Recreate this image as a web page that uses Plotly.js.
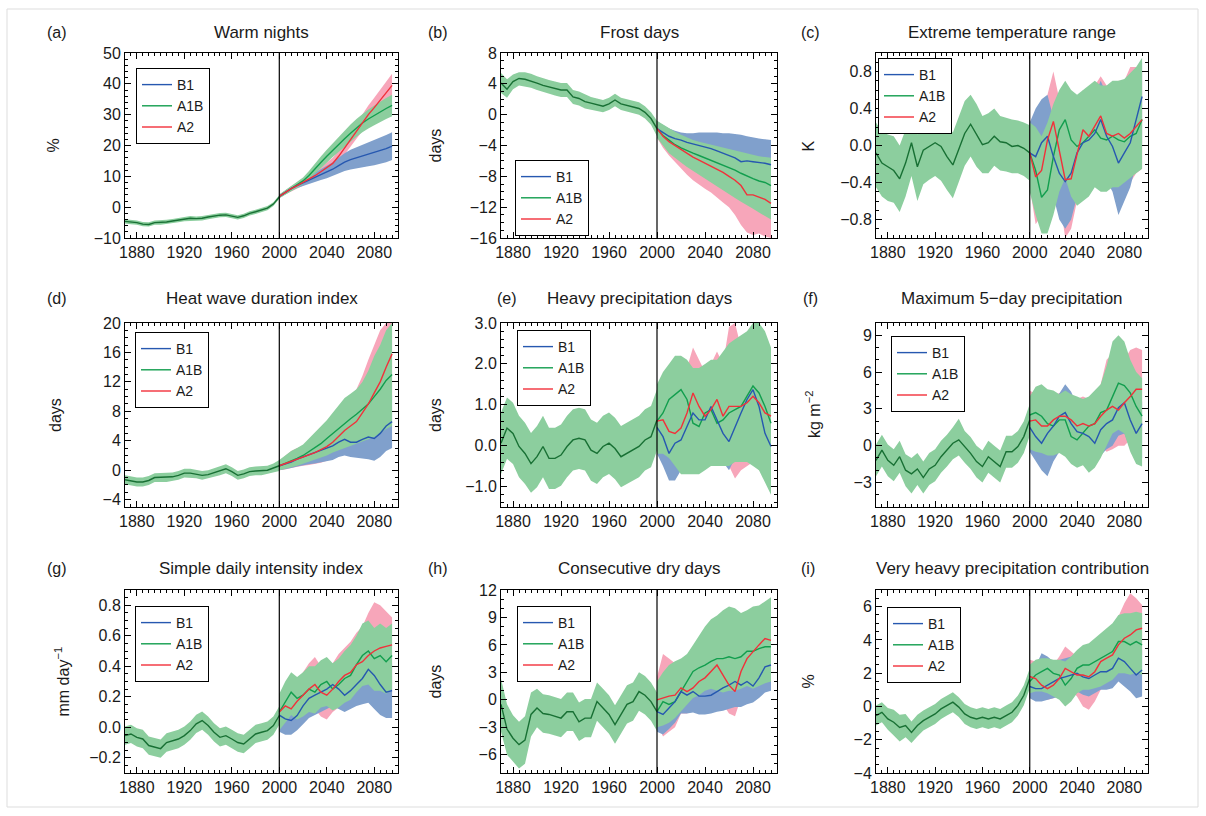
<!DOCTYPE html>
<html><head><meta charset="utf-8">
<script src="https://cdn.plot.ly/plotly-3.0.1.min.js"></script>
<style>html,body{margin:0;padding:0;background:#fff}#chart{width:1206px;height:816px}</style>
</head><body><div id="chart"></div>
<script>
// ---------- years ----------
const X_HIST = [1870,1875,1880,1885,1890,1895,1900,1905,1910,1915,1920,1925,1930,1935,1940,1945,1950,1955,1960,1965,1970,1975,1980,1985,1990,1995,2000];
const X_FUT = [2000,2005,2010,2015,2020,2025,2030,2035,2040,2045,2050,2055,2060,2065,2070,2075,2080,2085,2090,2095];
const X_TICKS = [1880,1920,1960,2000,2040,2080];
const SCENARIOS = ["B1","A1B","A2"];

// ---------- (a) Warm nights ----------
const a_hist = [-4.6,-4.8,-5.0,-5.5,-5.6,-5.0,-5.0,-4.8,-4.5,-4.2,-3.9,-3.6,-3.7,-3.6,-3.2,-2.8,-2.6,-2.5,-2.9,-3.3,-2.8,-2.0,-1.5,-1.0,-0.3,1.0,3.3];
const a_hist_lo = [-5.3,-5.5,-5.7,-6.2,-6.3,-5.7,-5.7,-5.5,-5.2,-4.9,-4.6,-4.3,-4.4,-4.3,-3.9,-3.5,-3.3,-3.2,-3.6,-4.0,-3.5,-2.7,-2.2,-1.7,-1.0,0.4,2.7];
const a_hist_hi = [-3.9,-4.1,-4.3,-4.8,-4.9,-4.3,-4.3,-4.1,-3.8,-3.5,-3.2,-2.9,-3.0,-2.9,-2.5,-2.1,-1.9,-1.8,-2.2,-2.6,-2.1,-1.3,-0.8,-0.3,0.4,1.6,3.9];
const a_b1 = [3.5,4.8,6.0,7.0,7.9,8.8,9.6,10.5,11.4,12.3,13.5,14.6,15.4,16.0,16.6,17.1,17.6,18.2,19.0,19.8];
const a_b1_lo = [3.0,4.2,5.3,6.2,6.9,7.6,8.2,8.8,9.4,10.0,10.9,11.7,12.2,12.6,13.0,13.3,13.6,14.0,14.6,15.3];
const a_b1_hi = [4.0,5.4,6.7,7.8,8.9,10.0,11.0,12.2,13.4,14.6,16.1,17.5,18.6,19.4,20.2,20.9,21.6,22.4,23.4,24.3];
const a_a1b = [3.5,4.8,6.0,7.2,8.5,10.3,12.5,14.5,16.5,18.5,20.3,22.2,24.0,25.7,27.3,28.6,29.8,31.0,32.0,33.0];
const a_a1b_lo = [2.9,4.1,5.2,6.3,7.4,8.9,10.8,12.6,14.4,16.3,17.9,19.6,21.2,22.8,24.3,25.5,26.6,27.7,28.6,29.5];
const a_a1b_hi = [4.1,5.5,6.8,8.1,9.6,11.7,14.2,16.4,18.6,20.7,22.7,24.8,26.8,28.6,30.3,31.7,33.0,34.3,35.4,36.5];
const a_a2 = [3.5,4.8,6.0,7.0,8.0,9.0,10.2,11.5,12.8,14.2,16.5,19.2,22.0,24.8,27.5,30.0,32.3,34.8,37.0,39.5];
const a_a2_lo = [2.9,4.1,5.2,6.1,7.0,7.9,9.0,10.1,11.2,12.4,14.5,17.0,19.6,22.2,24.7,27.0,29.1,31.4,33.5,35.7];
const a_a2_hi = [4.1,5.5,6.8,7.9,9.0,10.1,11.4,12.9,14.4,16.0,18.5,21.4,24.4,27.4,30.3,33.0,35.5,38.2,40.5,43.3];

// ---------- (b) Frost days ----------
const b_hist = [4.1,3.3,4.3,4.7,4.6,4.4,4.1,3.8,3.6,3.4,3.2,3.2,2.3,2.1,1.7,1.5,1.3,1.1,1.4,1.9,1.4,1.2,1.0,0.8,0.3,-0.5,-1.8];
const b_hist_lo = [2.8,2.2,3.3,3.8,3.7,3.5,3.2,2.9,2.7,2.5,2.3,2.3,1.4,1.2,0.8,0.7,0.5,0.3,0.6,1.1,0.6,0.4,0.2,0.0,-0.5,-1.3,-2.8];
const b_hist_hi = [5.4,4.6,5.2,5.5,5.5,5.3,5.0,4.7,4.5,4.3,4.1,4.1,3.2,3.0,2.6,2.3,2.1,1.9,2.2,2.7,2.2,2.0,1.8,1.6,1.1,0.3,-0.8];
const b_b1 = [-1.8,-2.3,-2.8,-3.1,-3.3,-3.6,-3.8,-3.9,-4.1,-4.4,-4.7,-5.0,-5.3,-5.6,-6.1,-6.0,-6.1,-6.2,-6.3,-6.5];
const b_b1_lo = [-2.8,-3.6,-4.3,-4.8,-5.2,-5.7,-6.1,-6.4,-6.7,-7.1,-7.5,-7.9,-8.3,-8.6,-9.1,-9.2,-9.3,-9.4,-9.5,-9.7];
const b_b1_hi = [-0.9,-1.4,-1.8,-2.1,-2.3,-2.4,-2.4,-2.3,-2.3,-2.3,-2.3,-2.4,-2.4,-2.5,-2.6,-2.8,-3.0,-3.1,-3.2,-3.3];
const b_a1b = [-1.8,-2.7,-3.3,-3.9,-4.3,-4.7,-5.0,-5.3,-5.6,-5.9,-6.2,-6.5,-6.8,-7.2,-7.6,-8.0,-8.3,-8.6,-8.8,-9.2];
const b_a1b_lo = [-3.0,-4.0,-5.0,-5.6,-6.2,-6.8,-7.4,-7.8,-8.3,-8.8,-9.3,-9.8,-10.3,-10.8,-11.3,-11.8,-12.2,-12.7,-13.2,-13.6];
const b_a1b_hi = [-0.8,-1.3,-1.8,-2.2,-2.6,-3.0,-3.3,-3.5,-3.7,-3.9,-4.1,-4.3,-4.5,-4.7,-4.9,-5.1,-5.3,-5.4,-5.5,-5.6];
const b_a2 = [-1.8,-2.8,-3.5,-4.0,-4.6,-5.1,-5.5,-5.9,-6.3,-6.6,-7.0,-7.5,-8.0,-8.5,-9.2,-10.4,-10.4,-10.7,-11.0,-11.5];
const b_a2_lo = [-3.0,-4.3,-5.3,-6.2,-7.0,-7.8,-8.5,-9.1,-9.6,-10.1,-10.7,-11.4,-12.0,-13.0,-14.3,-15.3,-15.6,-15.4,-15.8,-16.0];
const b_a2_hi = [-0.8,-1.5,-2.0,-2.3,-2.8,-3.2,-3.5,-3.9,-4.2,-4.5,-4.8,-5.1,-5.5,-5.8,-6.2,-6.8,-7.0,-7.3,-7.5,-7.8];

// ---------- (c) Extreme temperature range ----------
const c_hist = [-0.08,-0.19,-0.23,-0.27,-0.36,-0.19,0.03,-0.23,-0.05,-0.01,0.03,-0.01,-0.12,-0.21,-0.05,0.13,0.23,0.12,0.01,0.03,0.10,0.04,0.03,-0.01,0.00,-0.03,-0.08];
const c_hist_lo = [-0.45,-0.55,-0.6,-0.62,-0.72,-0.55,-0.33,-0.6,-0.42,-0.37,-0.33,-0.38,-0.48,-0.57,-0.40,-0.22,-0.12,-0.23,-0.30,-0.30,-0.22,-0.27,-0.28,-0.30,-0.30,-0.33,-0.38];
const c_hist_hi = [0.25,0.15,0.12,0.10,0.0,0.17,0.38,0.12,0.30,0.34,0.38,0.34,0.22,0.14,0.30,0.48,0.55,0.45,0.32,0.35,0.40,0.32,0.30,0.28,0.27,0.25,0.22];
const c_b1 = [-0.08,-0.12,0.03,0.10,-0.12,-0.30,-0.39,-0.30,-0.08,0.03,0.06,0.13,0.28,0.10,-0.01,-0.19,-0.08,0.03,0.28,0.53];
const c_b1_lo = [-0.45,-0.50,-0.35,-0.30,-0.55,-0.80,-0.90,-0.80,-0.55,-0.42,-0.40,-0.35,-0.20,-0.38,-0.50,-0.75,-0.60,-0.45,-0.20,0.0];
const c_b1_hi = [0.25,0.40,0.50,0.55,0.30,0.10,0.05,0.15,0.35,0.45,0.50,0.55,0.70,0.55,0.45,0.30,0.40,0.50,0.70,0.90];
const c_a1b = [-0.08,-0.27,-0.56,-0.48,-0.12,0.17,0.28,0.06,-0.01,0.03,0.10,0.17,0.08,0.06,0.10,0.06,0.04,0.10,0.13,0.28];
const c_a1b_lo = [-0.50,-0.75,-0.95,-0.95,-0.75,-0.50,-0.35,-0.55,-0.65,-0.60,-0.55,-0.45,-0.50,-0.50,-0.45,-0.45,-0.40,-0.35,-0.30,-0.25];
const c_a1b_hi = [0.25,0.20,0.10,0.25,0.45,0.60,0.70,0.60,0.55,0.60,0.65,0.70,0.65,0.65,0.70,0.70,0.72,0.78,0.85,0.95];
const c_a2 = [-0.08,-0.34,-0.27,0.06,0.26,-0.05,-0.37,-0.36,-0.08,0.17,0.10,0.21,0.32,0.13,0.10,0.13,0.08,0.13,0.21,0.28];
const c_a2_lo = [-0.45,-0.85,-0.75,-0.40,-0.25,-0.55,-1.00,-0.90,-0.60,-0.35,-0.40,-0.30,-0.20,-0.40,-0.45,-0.40,-0.45,-0.40,-0.30,-0.25];
const c_a2_hi = [0.25,0.15,0.25,0.55,0.80,0.50,0.25,0.30,0.45,0.60,0.60,0.65,0.75,0.65,0.65,0.70,0.70,0.85,0.85,0.80];

// ---------- (d) Heat wave duration index ----------
const d_hist = [-1.3,-1.5,-1.6,-1.6,-1.4,-1.0,-1.0,-1.0,-0.9,-0.7,-0.4,-0.4,-0.5,-0.7,-0.6,-0.3,-0.1,0.2,-0.2,-0.7,-0.5,-0.2,-0.1,-0.1,0.0,0.3,0.6];
const d_hist_lo = [-1.9,-2.1,-2.2,-2.2,-2.0,-1.6,-1.6,-1.6,-1.5,-1.3,-1.0,-1.0,-1.1,-1.3,-1.2,-0.9,-0.7,-0.4,-0.8,-1.3,-1.1,-0.8,-0.7,-0.7,-0.6,-0.3,-0.1];
const d_hist_hi = [-0.7,-0.9,-1.0,-1.0,-0.8,-0.4,-0.4,-0.4,-0.3,-0.1,0.2,0.2,0.1,-0.1,0.0,0.3,0.5,0.8,0.4,-0.1,0.1,0.4,0.5,0.5,0.6,0.9,1.4];
const d_b1 = [0.6,0.8,1.1,1.5,1.8,2.0,2.3,2.6,3.0,3.3,3.8,4.2,3.8,3.8,4.2,4.5,4.3,5.0,6.0,6.6];
const d_b1_lo = [0.0,0.1,0.3,0.5,0.7,0.8,0.9,1.0,1.2,1.4,1.8,2.0,1.8,1.6,1.6,1.5,1.3,1.8,2.6,3.0];
const d_b1_hi = [1.2,1.5,1.9,2.5,2.9,3.2,3.7,4.2,4.8,5.2,5.8,6.4,5.8,6.0,6.8,7.5,7.3,8.2,9.4,10.2];
const d_a1b = [0.6,0.9,1.2,1.6,2.0,2.5,3.0,3.6,4.3,5.0,5.7,6.4,7.0,7.6,8.3,9.0,10.0,11.0,12.2,13.0];
const d_a1b_lo = [0.0,0.2,0.4,0.6,0.8,1.1,1.4,1.7,2.0,2.4,2.8,3.1,3.3,3.6,3.9,4.2,4.5,5.0,5.6,6.0];
const d_a1b_hi = [1.4,2.0,2.6,3.0,3.5,4.3,5.1,6.0,6.8,7.8,8.8,9.8,10.4,11.0,12.0,13.5,15.5,17.0,19.0,20.0];
const d_a2 = [0.6,0.9,1.2,1.6,1.8,2.1,2.4,2.8,3.2,3.8,4.6,5.4,6.0,6.6,7.8,9.0,10.5,12.0,14.0,15.8];
const d_a2_lo = [0.0,0.1,0.3,0.5,0.6,0.7,0.8,1.0,1.3,1.7,2.2,2.8,3.2,3.6,4.5,5.3,6.3,7.3,8.5,9.5];
const d_a2_hi = [1.3,1.9,2.6,3.0,3.2,3.7,4.2,4.8,5.6,6.5,7.6,8.8,9.9,11.0,12.8,15.0,17.0,19.0,20.0,20.0];

// ---------- (e) Heavy precipitation days ----------
const e_hist = [0.06,0.43,0.30,-0.02,-0.19,-0.44,-0.27,-0.02,-0.31,-0.31,-0.23,-0.02,0.14,0.18,0.14,-0.11,-0.19,-0.02,0.06,-0.07,-0.27,-0.19,-0.11,-0.02,0.14,0.22,0.63];
const e_hist_lo = [-0.69,-0.32,-0.45,-0.77,-0.94,-1.15,-1.02,-0.77,-1.06,-1.06,-0.98,-0.77,-0.61,-0.57,-0.61,-0.86,-0.94,-0.77,-0.69,-0.82,-1.02,-0.94,-0.86,-0.77,-0.61,-0.53,-0.12];
const e_hist_hi = [0.81,1.18,1.05,0.73,0.56,0.31,0.48,0.73,0.44,0.44,0.52,0.73,0.89,0.93,0.89,0.64,0.56,0.73,0.81,0.68,0.48,0.56,0.64,0.73,0.89,0.97,1.38];
const e_b1 = [0.45,0.22,-0.19,0.06,0.14,0.47,0.80,0.63,0.63,0.96,0.63,0.30,0.10,0.47,0.80,1.13,1.37,0.96,0.30,-0.02];
const e_b1_lo = [-0.2,-0.5,-0.85,-0.85,-0.6,-0.3,0.0,-0.1,-0.1,0.2,-0.1,-0.4,-0.6,-0.3,0.0,0.3,0.5,0.1,-0.5,-0.8];
const e_b1_hi = [1.1,1.0,0.6,0.8,0.9,1.2,1.5,1.4,1.4,1.7,1.4,1.0,0.8,1.2,1.6,1.9,2.1,1.7,1.0,0.7];
const e_a1b = [0.60,0.80,1.13,1.25,1.37,1.13,0.55,0.47,0.80,0.88,0.55,0.63,0.80,0.88,0.96,1.21,1.46,1.29,0.96,0.55];
const e_a1b_lo = [-0.2,-0.2,-0.3,-0.5,-0.7,-0.7,-0.7,-0.7,-0.6,-0.5,-0.5,-0.5,-0.5,-0.4,-0.4,-0.4,-0.5,-0.6,-0.9,-1.2];
const e_a1b_hi = [1.5,1.8,2.0,2.2,2.2,2.1,1.9,1.9,2.0,2.1,2.1,2.3,2.5,2.6,2.7,2.8,3.0,3.0,2.8,2.4];
const e_a2 = [0.60,0.63,0.35,0.30,0.43,0.80,1.29,0.96,0.72,0.88,1.13,0.72,0.96,0.96,0.96,1.05,1.21,1.05,0.80,0.72];
const e_a2_lo = [-0.1,-0.2,-0.5,-0.6,-0.5,-0.2,0.2,-0.1,-0.3,-0.3,-0.2,-0.5,-0.5,-0.8,-0.6,-0.5,-0.4,-0.6,-0.7,-0.8];
const e_a2_hi = [1.3,1.4,1.2,1.3,1.5,1.9,2.4,2.1,1.8,2.0,2.3,2.0,2.9,3.0,2.4,2.3,2.5,2.3,2.1,2.2];

// ---------- (f) Maximum 5-day precipitation ----------
const f_hist = [-1.2,-0.36,-1.2,-1.6,-0.9,-2.0,-2.3,-1.9,-2.6,-1.9,-1.6,-0.9,-0.36,0.2,0.47,-0.08,-0.63,-1.3,-1.7,-0.9,-1.3,-1.7,-0.5,-0.5,-0.08,0.74,2.1];
const f_hist_lo = [-2.5,-1.7,-2.5,-2.9,-2.2,-3.3,-3.9,-3.2,-3.9,-3.2,-2.9,-2.2,-1.7,-1.1,-0.8,-1.4,-1.9,-2.6,-3.0,-2.2,-2.6,-3.0,-1.8,-1.8,-1.4,-0.6,0.8];
const f_hist_hi = [0.1,0.9,0.1,-0.3,0.4,-0.7,-1.0,-0.6,-1.3,-0.6,-0.3,0.4,0.9,1.5,2.2,1.2,0.7,0.0,-0.4,0.4,0.0,-0.4,0.8,0.8,1.2,2.0,3.4];
const f_b1 = [1.5,0.74,0.2,1.0,1.6,2.4,2.7,1.8,1.15,1.0,0.74,0.2,1.3,1.8,2.1,3.1,3.5,2.1,1.0,1.8];
const f_b1_lo = [-0.5,-1.2,-2.0,-2.5,-1.3,-0.5,0.0,-0.5,-0.8,-1.0,-1.0,-1.5,-0.8,-0.3,0.0,0.8,1.0,-0.3,-1.0,-1.0];
const f_b1_hi = [3.0,2.5,2.3,3.0,3.5,4.3,5.0,4.4,3.3,3.0,2.7,2.2,3.2,3.6,4.0,5.0,5.5,4.2,3.0,3.6];
const f_a1b = [2.5,2.7,2.4,1.8,1.6,2.1,2.1,0.74,0.47,1.0,1.6,1.8,2.7,2.9,4.0,5.1,4.9,4.3,3.2,2.4];
const f_a1b_lo = [-0.3,-0.5,-0.6,-0.8,-0.8,-0.6,-0.9,-1.5,-1.8,-1.6,-2.2,-1.8,-1.0,0.0,1.0,1.3,1.0,-0.5,-1.5,-1.7];
const f_a1b_hi = [4.0,4.8,5.0,4.6,4.5,4.2,4.5,4.2,4.0,3.8,4.0,4.5,5.0,6.5,8.5,9.0,8.5,7.0,6.0,5.5];
const f_a2 = [2.0,2.1,1.6,1.6,2.1,2.4,2.4,2.1,1.6,1.8,1.6,1.8,2.4,2.9,3.2,2.9,3.5,4.0,4.6,4.6];
const f_a2_lo = [0.0,-0.2,-0.5,-0.5,0.0,0.3,0.3,0.0,-0.5,-0.3,-0.5,-0.3,0.0,-0.5,-0.3,0.0,0.0,0.5,1.0,1.2];
const f_a2_hi = [4.5,4.2,3.8,3.8,4.0,4.3,4.3,4.0,3.8,4.0,3.8,4.0,5.0,7.0,7.5,6.5,7.0,7.8,8.0,7.8];

// ---------- (g) Simple daily intensity index ----------
const g_hist = [-0.055,-0.044,-0.066,-0.077,-0.12,-0.13,-0.14,-0.10,-0.09,-0.077,-0.055,-0.022,0.022,0.044,0.011,-0.033,-0.066,-0.055,-0.077,-0.10,-0.11,-0.077,-0.044,-0.033,-0.022,0.011,0.077];
const g_hist_lo = [-0.115,-0.104,-0.126,-0.137,-0.18,-0.19,-0.2,-0.16,-0.15,-0.137,-0.115,-0.082,-0.038,-0.016,-0.049,-0.093,-0.126,-0.115,-0.137,-0.16,-0.17,-0.137,-0.104,-0.093,-0.082,-0.049,0.017];
const g_hist_hi = [0.005,0.016,-0.006,-0.017,-0.06,-0.07,-0.08,-0.04,-0.03,-0.017,0.005,0.038,0.082,0.104,0.071,0.027,-0.006,0.005,-0.017,-0.04,-0.05,-0.017,0.016,0.027,0.038,0.071,0.137];
const g_b1 = [0.08,0.055,0.044,0.077,0.14,0.19,0.21,0.23,0.25,0.28,0.25,0.21,0.24,0.28,0.32,0.38,0.34,0.28,0.23,0.24];
const g_b1_lo = [-0.03,-0.05,-0.05,-0.02,0.02,0.06,0.08,0.10,0.12,0.14,0.12,0.10,0.12,0.14,0.15,0.16,0.12,0.08,0.06,0.06];
const g_b1_hi = [0.18,0.16,0.15,0.18,0.26,0.32,0.34,0.36,0.38,0.42,0.38,0.34,0.37,0.42,0.48,0.56,0.52,0.46,0.40,0.42];
const g_a1b = [0.10,0.17,0.23,0.19,0.21,0.25,0.23,0.28,0.30,0.25,0.28,0.32,0.34,0.41,0.47,0.50,0.45,0.47,0.43,0.47];
const g_a1b_lo = [-0.02,0.03,0.08,0.05,0.07,0.10,0.09,0.13,0.14,0.11,0.13,0.16,0.18,0.23,0.27,0.28,0.24,0.24,0.22,0.25];
const g_a1b_hi = [0.22,0.30,0.36,0.33,0.36,0.40,0.40,0.44,0.46,0.42,0.45,0.50,0.54,0.60,0.68,0.70,0.65,0.68,0.65,0.68];
const g_a2 = [0.10,0.14,0.12,0.17,0.21,0.25,0.28,0.23,0.21,0.25,0.30,0.34,0.36,0.41,0.43,0.47,0.50,0.52,0.53,0.54];
const g_a2_lo = [0.00,0.03,0.01,0.05,0.05,0.10,0.12,0.07,0.05,0.10,0.13,0.15,0.12,0.18,0.20,0.22,0.25,0.15,0.15,0.20];
const g_a2_hi = [0.22,0.26,0.25,0.30,0.36,0.42,0.46,0.40,0.38,0.42,0.48,0.52,0.56,0.62,0.66,0.75,0.82,0.80,0.76,0.72];

// ---------- (h) Consecutive dry days ----------
const h_hist = [-0.5,-3.2,-4.2,-4.9,-4.4,-1.6,-0.9,-1.5,-1.6,-1.8,-2.0,-1.3,-1.3,-2.4,-2.0,-2.0,-0.2,-0.9,-1.6,-2.7,-1.6,-0.5,-0.2,0.9,0.5,-0.2,-1.3];
const h_hist_lo = [-3.5,-6.0,-6.8,-7.5,-7.0,-4.0,-3.0,-3.6,-3.7,-3.9,-4.1,-3.4,-3.4,-4.5,-4.1,-4.1,-2.3,-3.0,-3.7,-4.8,-3.7,-2.6,-2.3,-1.2,-1.6,-2.3,-3.4];
const h_hist_hi = [2.3,-0.5,-1.7,-2.4,-1.8,0.8,1.2,0.6,0.5,0.3,0.1,0.8,0.8,-0.3,0.1,0.1,1.9,1.2,0.5,-0.6,0.5,1.6,1.9,3.0,2.6,1.9,0.8];
const h_b1 = [-1.3,-1.6,-0.9,-0.2,0.9,0.5,0.9,0.4,0.4,0.5,0.9,1.3,1.6,2.0,1.6,2.0,1.5,2.4,3.6,3.8];
const h_b1_lo = [-3.5,-3.8,-3.2,-2.5,-1.5,-1.5,-1.4,-1.6,-1.6,-1.5,-1.3,-1.2,-1.0,-0.8,-0.8,-0.5,-0.3,0.2,0.8,1.0];
const h_b1_hi = [1.0,0.8,1.4,2.0,3.0,2.6,3.0,2.6,2.6,2.6,3.0,3.5,3.8,4.2,3.8,4.2,3.7,4.6,5.8,6.0];
const h_a1b = [-1.3,-0.2,-0.5,-0.2,0.9,2.0,3.1,3.5,3.8,4.2,4.5,4.5,4.7,4.5,4.7,5.3,5.3,5.6,5.8,5.8];
const h_a1b_lo = [-3.0,-2.8,-2.5,-2.0,-1.2,-0.5,0.2,0.5,1.0,1.2,1.0,0.8,1.0,1.0,1.2,1.5,1.2,1.5,1.8,2.0];
const h_a1b_hi = [2.0,3.0,3.8,4.2,4.5,5.0,6.0,7.0,8.0,8.8,9.2,9.8,10.2,10.0,9.5,9.8,10.2,10.3,10.8,11.2];
const h_a2 = [0.0,0.2,0.4,0.5,1.3,0.9,1.3,2.0,2.4,3.1,3.8,2.7,1.6,0.9,3.1,4.5,5.3,6.0,6.7,6.5];
const h_a2_lo = [-2.5,-4.0,-3.5,-3.0,-1.5,-1.5,-1.0,-0.3,0.0,0.5,0.8,-0.5,-1.5,-1.8,0.2,1.5,2.0,2.5,3.0,3.0];
const h_a2_hi = [2.5,5.0,4.5,4.0,4.2,4.0,4.3,5.0,5.2,5.8,6.5,6.0,5.5,5.0,9.0,9.5,9.0,9.5,10.0,10.0];

// ---------- (i) Very heavy precipitation contribution ----------
const i_hist = [-0.55,-0.35,-0.75,-0.95,-1.26,-1.15,-1.56,-1.15,-0.85,-0.65,-0.45,-0.15,0.06,0.26,-0.04,-0.45,-0.65,-0.75,-0.65,-0.75,-0.65,-0.75,-0.55,-0.35,0.06,0.67,1.68];
const i_hist_lo = [-1.15,-0.95,-1.4,-1.75,-2.1,-1.85,-2.2,-1.8,-1.45,-1.25,-1.05,-0.75,-0.55,-0.35,-0.64,-1.05,-1.25,-1.35,-1.25,-1.35,-1.25,-1.35,-1.15,-0.95,-0.55,0.07,1.08];
const i_hist_hi = [0.05,0.25,-0.1,-0.2,-0.5,-0.45,-0.9,-0.5,-0.25,-0.05,0.15,0.45,0.66,0.86,0.56,0.15,-0.05,-0.15,-0.05,-0.15,-0.05,-0.15,0.05,0.25,0.66,1.27,2.28];
const i_b1 = [1.2,1.07,1.07,1.28,1.48,1.68,1.78,1.89,1.99,1.78,1.68,1.89,2.09,2.09,2.29,2.9,2.7,2.29,1.89,2.19];
const i_b1_lo = [0.5,0.3,0.3,0.4,0.5,0.6,0.7,0.8,0.9,0.7,0.6,0.8,1.0,1.0,1.1,1.5,1.2,0.9,0.5,0.6];
const i_b1_hi = [2.2,2.4,3.2,3.0,2.7,2.8,2.9,3.0,3.1,2.9,2.8,3.0,3.2,3.2,3.4,4.0,3.9,3.5,3.1,3.4];
const i_a1b = [1.5,1.89,2.09,2.29,1.99,1.89,1.28,1.68,2.29,2.49,2.49,2.7,2.9,3.1,3.3,3.9,3.9,3.7,3.9,3.7];
const i_a1b_lo = [0.8,0.9,0.9,0.8,0.6,0.4,0.0,0.3,0.8,1.0,1.0,1.1,1.2,1.4,1.6,2.0,2.0,1.9,2.0,1.9];
const i_a1b_hi = [2.5,2.8,2.9,2.9,2.8,2.8,2.7,3.0,3.4,3.7,3.8,4.1,4.4,4.7,5.0,5.5,5.6,5.6,5.7,5.6];
const i_a2 = [1.8,1.68,1.28,1.07,1.28,1.68,2.29,2.09,1.89,1.89,1.78,2.09,2.7,2.9,3.1,3.7,4.1,4.3,4.6,4.7];
const i_a2_lo = [0.9,0.8,0.6,0.4,0.5,0.8,1.2,1.0,0.6,0.0,-0.2,0.3,1.0,1.3,1.6,2.2,2.5,2.7,3.0,3.1];
const i_a2_hi = [2.8,2.7,2.5,2.3,2.5,3.0,3.6,3.3,3.0,3.0,2.9,3.3,4.2,4.6,4.9,5.4,6.2,6.8,6.5,6.1];

// ---------- styling ----------
const FONT = "Liberation Sans, Arial, Helvetica, sans-serif";
const HIST_LINE = "rgb(24,112,52)";
const BAND = {B1: "rgb(128,160,204)", A1B: "rgb(140,206,158)", A2: "rgb(247,166,186)"};
const LINE = {B1: "rgb(38,88,176)", A1B: "rgb(18,158,78)", A2: "rgb(242,48,58)"};
const W = 1206, H = 816;
const COLS = [[125,398],[501,777],[876,1148]];
const ROWS = [[53,238],[323,507],[590,773]];
const TITLE_Y = [33,298,568];

const panels = [
  {lab:"(a)", labX:57,  title:"Warm nights", yt:"%", ytX:53, yr:[-10,50], yv:[-10,0,10,20,30,40,50], fmt:"", minor:2, leg:[136,68],
   h:[a_hist,a_hist_lo,a_hist_hi], s:{B1:[a_b1,a_b1_lo,a_b1_hi], A1B:[a_a1b,a_a1b_lo,a_a1b_hi], A2:[a_a2,a_a2_lo,a_a2_hi]}},
  {lab:"(b)", labX:438, title:"Frost days", yt:"days", ytX:435, yr:[-16,8], yv:[-16,-12,-8,-4,0,4,8], fmt:"", minor:1, leg:[515,160],
   h:[b_hist,b_hist_lo,b_hist_hi], s:{B1:[b_b1,b_b1_lo,b_b1_hi], A1B:[b_a1b,b_a1b_lo,b_a1b_hi], A2:[b_a2,b_a2_lo,b_a2_hi]}},
  {lab:"(c)", labX:810, title:"Extreme temperature range", yt:"K", ytX:808, yr:[-1,1], yv:[-0.8,-0.4,0,0.4,0.8], fmt:".1f", minor:0.1, leg:[878,58],
   h:[c_hist,c_hist_lo,c_hist_hi], s:{B1:[c_b1,c_b1_lo,c_b1_hi], A1B:[c_a1b,c_a1b_lo,c_a1b_hi], A2:[c_a2,c_a2_lo,c_a2_hi]}},
  {lab:"(d)", labX:57,  title:"Heat wave duration index", yt:"days", ytX:55, yr:[-5,20], yv:[-4,0,4,8,12,16,20], fmt:"", minor:1, leg:[135,332],
   h:[d_hist,d_hist_lo,d_hist_hi], s:{B1:[d_b1,d_b1_lo,d_b1_hi], A1B:[d_a1b,d_a1b_lo,d_a1b_hi], A2:[d_a2,d_a2_lo,d_a2_hi]}},
  {lab:"(e)", labX:507, title:"Heavy precipitation days", yt:"days", ytX:435, yr:[-1.5,3], yv:[-1,0,1,2,3], fmt:".1f", minor:0.2, leg:[517,330],
   h:[e_hist,e_hist_lo,e_hist_hi], s:{B1:[e_b1,e_b1_lo,e_b1_hi], A1B:[e_a1b,e_a1b_lo,e_a1b_hi], A2:[e_a2,e_a2_lo,e_a2_hi]}},
  {lab:"(f)", labX:810, title:"Maximum 5\u2212day precipitation", yt:"kg m<sup>\u22122</sup>", ytX:813, yr:[-5,10], yv:[-3,0,3,6,9], fmt:"", minor:1, leg:[891,336],
   h:[f_hist,f_hist_lo,f_hist_hi], s:{B1:[f_b1,f_b1_lo,f_b1_hi], A1B:[f_a1b,f_a1b_lo,f_a1b_hi], A2:[f_a2,f_a2_lo,f_a2_hi]}},
  {lab:"(g)", labX:57,  title:"Simple daily intensity index", yt:"mm day<sup>\u22121</sup>", ytX:62, yr:[-0.3,0.9], yv:[-0.2,0,0.2,0.4,0.6,0.8], fmt:".1f", minor:0.05, leg:[135,606],
   h:[g_hist,g_hist_lo,g_hist_hi], s:{B1:[g_b1,g_b1_lo,g_b1_hi], A1B:[g_a1b,g_a1b_lo,g_a1b_hi], A2:[g_a2,g_a2_lo,g_a2_hi]}},
  {lab:"(h)", labX:438, title:"Consecutive dry days", yt:"days", ytX:435, yr:[-8,12], yv:[-6,-3,0,3,6,9,12], fmt:"", minor:1, leg:[517,606],
   h:[h_hist,h_hist_lo,h_hist_hi], s:{B1:[h_b1,h_b1_lo,h_b1_hi], A1B:[h_a1b,h_a1b_lo,h_a1b_hi], A2:[h_a2,h_a2_lo,h_a2_hi]}},
  {lab:"(i)", labX:808, title:"Very heavy precipitation contribution", yt:"%", ytX:808, yr:[-4,7], yv:[-4,-2,0,2,4,6], fmt:"", minor:0.5, leg:[887,607],
   h:[i_hist,i_hist_lo,i_hist_hi], s:{B1:[i_b1,i_b1_lo,i_b1_hi], A1B:[i_a1b,i_a1b_lo,i_a1b_hi], A2:[i_a2,i_a2_lo,i_a2_hi]}}
];

function band(x, lo, hi, color, xa, ya) {
  return {type:"scatter", mode:"lines", x:x.concat(x.slice().reverse()), y:hi.concat(lo.slice().reverse()),
    fill:"toself", fillcolor:color, line:{width:0, color:color}, xaxis:xa, yaxis:ya, hoverinfo:"skip", showlegend:false};
}

const traces = [];
const layout = {
  width:W, height:H, margin:{l:0,r:0,t:0,b:0}, paper_bgcolor:"#fff", plot_bgcolor:"#fff",
  font:{family:FONT, size:16, color:"#1a1a1a"}, annotations:[], shapes:[],
};

panels.forEach((p, k) => {
  const n = k + 1, r = Math.floor(k / 3), c = k % 3;
  const xa = "x" + (n === 1 ? "" : n), ya = "y" + (n === 1 ? "" : n);
  const legName = n === 1 ? "legend" : "legend" + n;
  const [xl, xr] = COLS[c], [yt, yb] = ROWS[r];
  const axCommon = {showline:true, linecolor:"#000", linewidth:1, mirror:"ticks", ticks:"inside", ticklen:6, tickwidth:1,
    tickcolor:"#000", showgrid:false, zeroline:false, fixedrange:true, tickfont:{family:FONT, size:16, color:"#1a1a1a"}};
  layout["xaxis" + (n === 1 ? "" : n)] = Object.assign({}, axCommon, {
    domain:[xl / W, xr / W], anchor:ya, range:[1870, 2100], tickmode:"array", tickvals:X_TICKS,
    minor:{dtick:5, tick0:1870, ticks:"inside", ticklen:3, tickcolor:"#000", showgrid:false}
  });
  layout["yaxis" + (n === 1 ? "" : n)] = Object.assign({}, axCommon, {
    domain:[1 - yb / H, 1 - yt / H], anchor:xa, range:p.yr, tickmode:"array", tickvals:p.yv, tickformat:p.fmt,
    minor:{dtick:p.minor, tick0:0, ticks:"inside", ticklen:3, tickcolor:"#000", showgrid:false}
  });

  ["A2","B1","A1B"].forEach(s => traces.push(band(X_FUT, p.s[s][1], p.s[s][2], BAND[s], xa, ya)));
  traces.push(band(X_HIST, p.h[1], p.h[2], BAND.A1B, xa, ya));
  traces.push({type:"scatter", mode:"lines", x:X_HIST, y:p.h[0], line:{color:HIST_LINE, width:1.4},
    xaxis:xa, yaxis:ya, showlegend:false, hoverinfo:"skip"});
  const order = {B1:1, A1B:2, A2:3};
  ["A1B","B1","A2"].forEach(s => traces.push({type:"scatter", mode:"lines", name:s, x:X_FUT, y:p.s[s][0],
    line:{color:LINE[s], width:1.4}, xaxis:xa, yaxis:ya, legend:legName, legendrank:order[s], showlegend:true}));

  layout[legName] = {x:p.leg[0] / W, y:1 - p.leg[1] / H, xanchor:"left", yanchor:"top", xref:"paper", yref:"paper",
    bgcolor:"#fff", bordercolor:"#000", borderwidth:1, font:{family:FONT, size:14, color:"#1a1a1a"},
    traceorder:"normal", itemwidth:30, tracegroupgap:0};

  layout.shapes.push({type:"line", xref:xa, yref:ya + " domain", x0:2000, x1:2000, y0:0, y1:1, line:{color:"#000", width:1.2}});

  layout.annotations.push({xref:"paper", yref:"paper", x:p.labX / W, y:1 - TITLE_Y[r] / H, text:p.lab, showarrow:false,
    xanchor:"center", yanchor:"middle", font:{family:FONT, size:16, color:"#1a1a1a"}});
  layout.annotations.push({xref:"paper", yref:"paper", x:((xl + xr) / 2) / W, y:1 - TITLE_Y[r] / H, text:p.title, showarrow:false,
    xanchor:"center", yanchor:"middle", font:{family:FONT, size:17, color:"#1a1a1a"}});
  layout.annotations.push({xref:"paper", yref:"paper", x:p.ytX / W, y:1 - ((yt + yb) / 2) / H, text:p.yt, showarrow:false,
    textangle:-90, xanchor:"center", yanchor:"middle", font:{family:FONT, size:16, color:"#1a1a1a"}});
});

layout.shapes.push({type:"rect", xref:"paper", yref:"paper", x0:7 / W, x1:1198 / W, y0:1 - 807 / H, y1:1 - 9 / H,
  line:{color:"#dddddd", width:1}, fillcolor:"rgba(0,0,0,0)"});

Plotly.newPlot("chart", traces, layout, {displayModeBar:false, staticPlot:true});
</script>
</body></html>
